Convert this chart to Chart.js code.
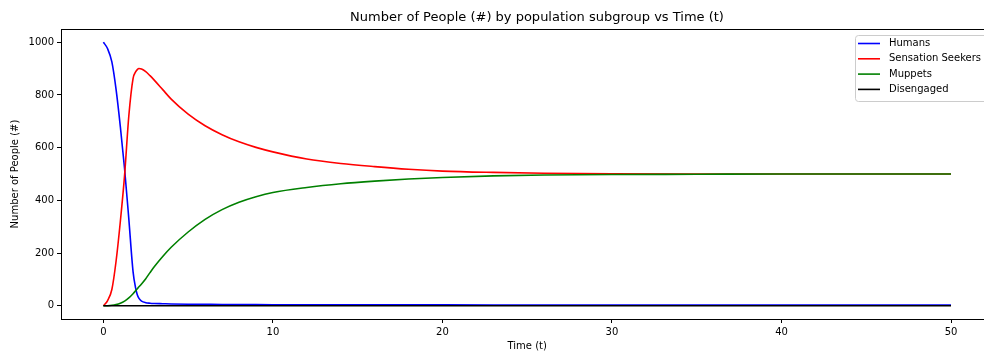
<!DOCTYPE html>
<html>
<head>
<meta charset="utf-8">
<script src="https://cdn.jsdelivr.net/npm/chart.js@4"></script>
<style>
  html, body { margin: 0; padding: 0; background: #fff; overflow: hidden; }
  #wrap { width: 1000px; height: 352px; position: relative; }
</style>
</head>
<body>
<div id="wrap"><canvas id="myChart"></canvas></div>
<script>
const times = [0, 0.25, 0.5, 0.75, 1.0, 1.25, 1.5, 1.75, 1.9, 2.0, 2.1, 2.25, 2.5, 2.75, 3, 3.5, 4, 5, 6, 7, 8, 9, 10, 12, 14, 16, 18, 20, 23, 26, 30, 35, 40, 45, 50];
const humans = [1000, 975, 925, 820, 680, 520, 330, 130, 68, 42, 28, 18, 12, 10, 9, 8, 7, 6, 5.5, 5, 4.8, 4.5, 4.3, 4, 3.8, 3.6, 3.5, 3.4, 3.3, 3.2, 3.1, 3, 3, 2.9, 2.9];
const seekers = [0, 20, 62, 170, 320, 495, 720, 862, 887, 896, 900, 898, 888, 873, 856, 820, 784, 727, 683, 649, 622, 601, 584, 557, 540, 528, 518, 511, 506, 503, 501, 500, 500, 500, 500];
const muppets = [0, 0.5, 2, 5, 10, 18, 30, 46, 57, 65, 72, 83, 103, 126, 148, 187, 222, 280, 328, 365, 393, 414, 430, 449, 463, 473, 481, 487, 493, 496, 498, 499, 500, 500, 500];
const disengaged = [0, 0, 0, 0, 0, 0, 0, 0, 0, 0, 0, 0, 0, 0, 0, 0, 0, 0, 0, 0, 0, 0, 0, 0, 0, 0, 0, 0, 0, 0, 0, 0, 0, 0, 0];

const xTicks = [0, 10, 20, 30, 40, 50];
const yTicks = [0, 200, 400, 600, 800, 1000];

const FONT = "'DejaVu Sans', sans-serif";
const pts = (ys) => times.map((t, i) => ({ x: t, y: ys[i] }));

// matplotlib-like frame, title and legend
const mplDecor = {
  id: "mplDecor",
  afterDraw(chart) {
    const { ctx, chartArea: a } = chart;
    ctx.save();
    ctx.strokeStyle = "#000";
    ctx.lineWidth = 1;
    ctx.strokeRect(Math.round(a.left) + 0.5, Math.round(a.top) + 0.5,
      Math.round(a.right - a.left), Math.round(a.bottom - a.top));

    ctx.fillStyle = "#000";
    ctx.font = "13px " + FONT;
    ctx.textAlign = "center";
    ctx.textBaseline = "middle";
    ctx.fillText("Number of People (#) by population subgroup vs Time (t)", 537, 18);

    // legend
    const sets = chart.data.datasets;
    ctx.font = "10px " + FONT;
    let maxW = 0;
    sets.forEach((d) => { maxW = Math.max(maxW, ctx.measureText(d.label).width); });
    const bx = 855.5, by = 35.5, bw = 889 - 855 + maxW + 8, bh = 66;
    ctx.beginPath();
    ctx.roundRect(bx, by, bw, bh, 3);
    ctx.fillStyle = "rgba(255,255,255,0.8)";
    ctx.fill();
    ctx.strokeStyle = "#cccccc";
    ctx.stroke();
    sets.forEach((d, i) => {
      const y = 43.5 + i * 15.3;
      ctx.beginPath();
      ctx.moveTo(858, y);
      ctx.lineTo(880, y);
      ctx.strokeStyle = d.borderColor;
      ctx.lineWidth = 1.6;
      ctx.stroke();
      ctx.fillStyle = "#000";
      ctx.textAlign = "left";
      ctx.fillText(d.label, 889, y);
    });
    ctx.restore();
  },
};

const ctx = document.getElementById("myChart");

new Chart(ctx, {
  type: "line",
  data: {
    datasets: [
      { label: "Humans", data: pts(humans), borderColor: "#0000ff", order: 4 },
      { label: "Sensation Seekers", data: pts(seekers), borderColor: "#ff0000", order: 3 },
      { label: "Muppets", data: pts(muppets), borderColor: "#008000", order: 2 },
      { label: "Disengaged", data: pts(disengaged), borderColor: "#000000", order: 1 },
    ],
  },
  options: {
    animation: false,
    responsive: true,
    maintainAspectRatio: false,
    layout: { padding: { top: 29, right: 6.6, left: 0, bottom: 0 } },
    elements: {
      point: { radius: 0 },
      line: { borderWidth: 1.6, cubicInterpolationMode: "monotone", fill: false },
    },
    scales: {
      x: {
        type: "linear",
        min: -2.5,
        max: 52.5,
        afterBuildTicks: (s) => { s.ticks = xTicks.map((v) => ({ value: v })); },
        afterFit: (s) => { s.height = 33; },
        ticks: { color: "#000", font: { family: FONT, size: 10 }, padding: 3, callback: (v) => String(v) },
        grid: { drawOnChartArea: false, tickLength: 4, color: "#000" },
        border: { color: "#000" },
        title: {
          display: true, text: "Time (t)", color: "#000",
          font: { family: FONT, size: 10 }, padding: { top: 0, bottom: 0 },
        },
      },
      y: {
        type: "linear",
        min: -50,
        max: 1050,
        afterBuildTicks: (s) => { s.ticks = yTicks.map((v) => ({ value: v })); },
        afterFit: (s) => { s.width = 61; },
        ticks: { color: "#000", font: { family: FONT, size: 10 }, padding: 3, callback: (v) => String(v) },
        grid: { drawOnChartArea: false, tickLength: 4, color: "#000" },
        border: { color: "#000" },
        title: {
          display: true, text: "Number of People (#)", color: "#000",
          font: { family: FONT, size: 10 }, padding: { top: 9, bottom: 0 },
        },
      },
    },
    plugins: {
      legend: { display: false },
      tooltip: { enabled: false },
    },
  },
  plugins: [mplDecor],
});
</script>
</body>
</html>
